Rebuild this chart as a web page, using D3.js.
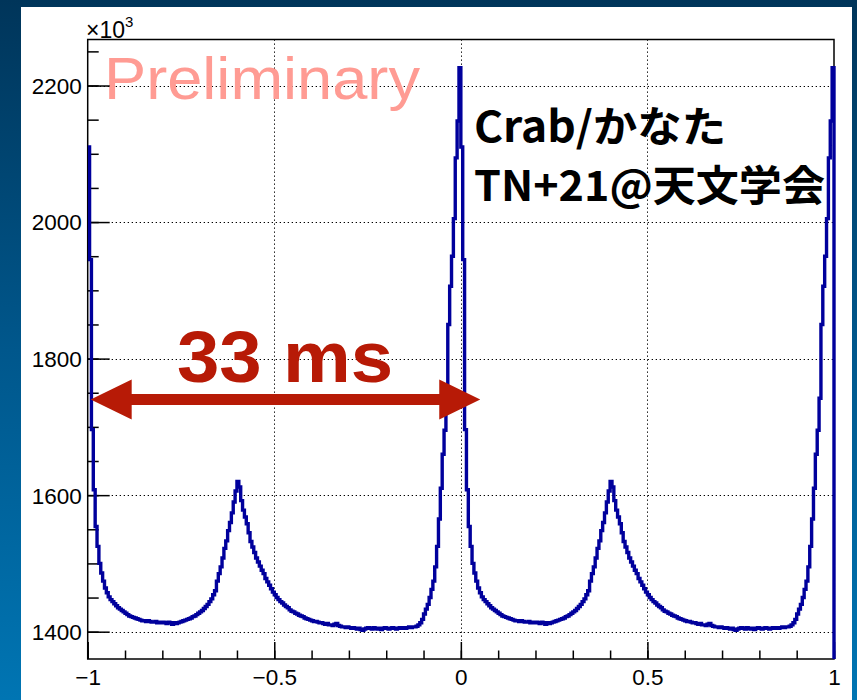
<!DOCTYPE html>
<html>
<head>
<meta charset="utf-8">
<script src="https://cdn.jsdelivr.net/npm/d3@7"></script>
<style>
  html, body { margin: 0; padding: 0; background: #003a5e; }
  svg { display: block; }
</style>
</head>
<body>
<svg id="chart" width="857" height="700"></svg>
<script>
// Crab pulsar light curve: counts per phase bin (x10^3), one rotation, bin width 0.005
const phaseCounts = [
  2110, 1945, 1696, 1608, 1554, 1525, 1500, 1486, 1474, 1464,
  1457, 1451, 1447, 1444, 1441, 1438, 1435, 1433, 1431, 1429,
  1427, 1425, 1423, 1422, 1421, 1420, 1419, 1418, 1417, 1416,
  1416, 1415, 1416, 1415, 1414, 1414, 1415, 1413, 1414, 1413,
  1414, 1413, 1412, 1414, 1413, 1411, 1413, 1412, 1413, 1414,
  1415, 1416, 1417, 1418, 1419, 1420, 1422, 1423, 1425, 1427,
  1429, 1431, 1434, 1437, 1440, 1444, 1448, 1454, 1460, 1474,
  1485, 1495, 1508, 1522, 1533, 1548, 1560, 1574, 1590, 1606,
  1620, 1612, 1592, 1578, 1568, 1558, 1545, 1532, 1524, 1516,
  1508, 1502, 1496, 1490, 1485, 1478, 1473, 1468, 1463, 1458,
  1454, 1450, 1447, 1444, 1442, 1439, 1437, 1435, 1432, 1430,
  1429, 1427, 1426, 1424, 1423, 1422, 1420, 1419, 1418, 1417,
  1416, 1415, 1415, 1414, 1413, 1413, 1412, 1411, 1412, 1410,
  1410, 1409, 1411, 1412, 1409, 1408, 1407, 1407, 1406, 1407,
  1406, 1405, 1406, 1405, 1404, 1405, 1403, 1402, 1404, 1405,
  1406, 1405, 1404, 1406, 1405, 1404, 1405, 1403, 1405, 1406,
  1405, 1404, 1405, 1406, 1405, 1404, 1405, 1406, 1405, 1406,
  1405, 1406, 1407, 1406, 1407, 1407, 1408, 1410, 1413, 1418,
  1426, 1433, 1440, 1450, 1462, 1474, 1495, 1525, 1565, 1610,
  1660, 1695, 1742, 1850, 1906, 1950, 2005, 2094, 2148, 2226
];
const binWidth = 0.005;
// the rotation is shown twice: phase -1..0 and 0..1
const cycleStarts = [-1, 0];

const xDomain = [-1, 1];
const yDomain = [1360, 2267.4];
const xMajorTicks = [-1, -0.5, 0, 0.5, 1];
const xTickLabels = ["\u22121", "\u22120.5", "0", "0.5", "1"];
const yMajorTicks = [1400, 1600, 1800, 2000, 2200];
const yTickLabels = ["1400", "1600", "1800", "2000", "2200"];

// period annotation
const periodLabel = "33 ms";
const periodArrow = { from: -0.992, to: 0.052, level: 1740 };

const W = 857, H = 700;
const plot = { left: 87.7, right: 834, top: 39.5, bottom: 659 };
const svg = d3.select("#chart");
const defs = svg.append("defs");

// backdrop gradient and white pad
const grad = defs.append("linearGradient").attr("id", "bg").attr("x1", 0).attr("y1", 0).attr("x2", 0).attr("y2", 1);
grad.append("stop").attr("offset", "0%").attr("stop-color", "#00355a");
grad.append("stop").attr("offset", "50%").attr("stop-color", "#00578c");
grad.append("stop").attr("offset", "100%").attr("stop-color", "#0075b3");
svg.append("rect").attr("width", W).attr("height", H).attr("fill", "url(#bg)");
svg.append("rect").attr("x", 21).attr("y", 7).attr("width", 831).attr("height", 700).attr("fill", "#ffffff");

const x = d3.scaleLinear().domain(xDomain).range([plot.left, plot.right]);
const y = d3.scaleLinear().domain(yDomain).range([plot.bottom, plot.top]);

const font = "'Liberation Sans', Arial, Helvetica, sans-serif";

// dotted grid at major ticks
const grid = svg.append("g").attr("stroke", "#000").attr("stroke-width", 1).attr("stroke-dasharray", "1.3,2.7");
grid.selectAll("line.gx").data(xMajorTicks.filter(d => d > -1 && d < 1)).join("line")
  .attr("x1", d => Math.round(x(d)) + 0.5).attr("x2", d => Math.round(x(d)) + 0.5)
  .attr("y1", plot.top).attr("y2", plot.bottom);
grid.selectAll("line.gy").data(yMajorTicks).join("line")
  .attr("y1", d => Math.round(y(d)) + 0.5).attr("y2", d => Math.round(y(d)) + 0.5)
  .attr("x1", plot.left).attr("x2", plot.right);

// preliminary watermark
svg.append("text")
  .attr("x", 104).attr("y", 99)
  .attr("font-family", "'Liberation Sans', Arial, sans-serif")
  .attr("font-weight", 400)
  .attr("font-size", 59)
  .attr("fill", "#ff9b93")
  .attr("textLength", 316).attr("lengthAdjust", "spacingAndGlyphs")
  .text("Preliminary");

// axes with inward ticks
const yAxisMinor = d3.axisLeft(y).ticks(20).tickSizeInner(-11).tickSizeOuter(0).tickFormat("");
const yAxis = d3.axisLeft(y).tickValues(yMajorTicks).tickSizeInner(-22).tickSizeOuter(0).tickPadding(6)
  .tickFormat((d, i) => yTickLabels[i]);
const xAxisMinor = d3.axisBottom(x).ticks(20).tickSizeInner(-8.5).tickSizeOuter(0).tickFormat("");
const xAxis = d3.axisBottom(x).tickValues(xMajorTicks).tickSizeInner(-17).tickSizeOuter(0).tickPadding(0)
  .tickFormat((d, i) => xTickLabels[i]);

function styleAxis(g) {
  g.select(".domain").remove();
  g.selectAll(".tick line").attr("stroke", "#000").attr("stroke-width", 1.5);
  g.selectAll(".tick text").attr("font-family", font).attr("font-size", 22.5).attr("fill", "#000");
}
svg.append("g").attr("transform", `translate(${plot.left},0)`).call(yAxisMinor).call(styleAxis);
svg.append("g").attr("transform", `translate(${plot.left},0)`).call(yAxis).call(styleAxis)
  .selectAll(".tick text").attr("dy", "0.35em");
svg.append("g").attr("transform", `translate(0,${plot.bottom})`).call(xAxisMinor).call(styleAxis);
svg.append("g").attr("transform", `translate(0,${plot.bottom})`).call(xAxis).call(styleAxis)
  .selectAll(".tick text").attr("y", 26).attr("dy", 0);

// frame
svg.append("rect")
  .attr("x", plot.left).attr("y", plot.top)
  .attr("width", plot.right - plot.left).attr("height", plot.bottom - plot.top)
  .attr("fill", "none").attr("stroke", "#000").attr("stroke-width", 1.5);

// exponent label
const expo = svg.append("text").attr("x", 86).attr("y", 37.5)
  .attr("font-family", font).style("font-size", "23px").attr("fill", "#000");
expo.append("tspan").style("font-size", "23px").text("\u00d710");
expo.append("tspan").style("font-size", "15px").attr("dy", -11).text("3");

// histogram outline (step line), closed to the floor at the right end
const pts = [];
cycleStarts.forEach(c => {
  phaseCounts.forEach((v, i) => pts.push([c + i * binWidth, v]));
});
pts.push([xDomain[1], phaseCounts[phaseCounts.length - 1]]);
pts.push([xDomain[1], yDomain[0]]);

defs.append("clipPath").attr("id", "plotclip").append("rect")
  .attr("x", plot.left).attr("y", plot.top - 2)
  .attr("width", plot.right - plot.left + 2).attr("height", plot.bottom - plot.top + 2);

const line = d3.line().x(d => x(d[0])).y(d => y(d[1])).curve(d3.curveStepAfter);
svg.append("path")
  .attr("clip-path", "url(#plotclip)")
  .attr("d", line(pts))
  .attr("fill", "none")
  .attr("stroke", "#00009c")
  .attr("stroke-width", 3.4)
  .attr("stroke-linejoin", "miter");

// source / meeting labels
const jp = "'Noto Sans CJK JP', 'Liberation Sans', sans-serif";
svg.append("text").attr("x", 474).attr("y", 142)
  .attr("font-family", jp).attr("font-weight", 700).attr("font-size", 42).attr("fill", "#000")
  .attr("textLength", 252).attr("lengthAdjust", "spacingAndGlyphs")
  .text("Crab/かなた");
svg.append("text").attr("x", 474).attr("y", 201)
  .attr("font-family", jp).attr("font-weight", 700).attr("font-size", 42).attr("fill", "#000")
  .attr("textLength", 351).attr("lengthAdjust", "spacingAndGlyphs")
  .text("TN+21@天文学会");

// period arrow and label
const red = "#b71a06";
const ax0 = x(periodArrow.from), ax1 = x(periodArrow.to), ay = y(periodArrow.level);
const headL = 41, headH = 20, shaftH = 5.5;
svg.append("path")
  .attr("d", [
    `M${ax0},${ay}`,
    `L${ax0 + headL},${ay - headH}`,
    `L${ax0 + headL},${ay - shaftH}`,
    `L${ax1 - headL},${ay - shaftH}`,
    `L${ax1 - headL},${ay - headH}`,
    `L${ax1},${ay}`,
    `L${ax1 - headL},${ay + headH}`,
    `L${ax1 - headL},${ay + shaftH}`,
    `L${ax0 + headL},${ay + shaftH}`,
    `L${ax0 + headL},${ay + headH}`,
    "Z"].join(""))
  .attr("fill", red);
svg.append("text").attr("x", 177).attr("y", 382)
  .attr("font-family", font).attr("font-weight", 700).attr("font-size", 72).attr("fill", red)
  .attr("textLength", 216).attr("lengthAdjust", "spacingAndGlyphs")
  .text(periodLabel);
</script>
</body>
</html>
